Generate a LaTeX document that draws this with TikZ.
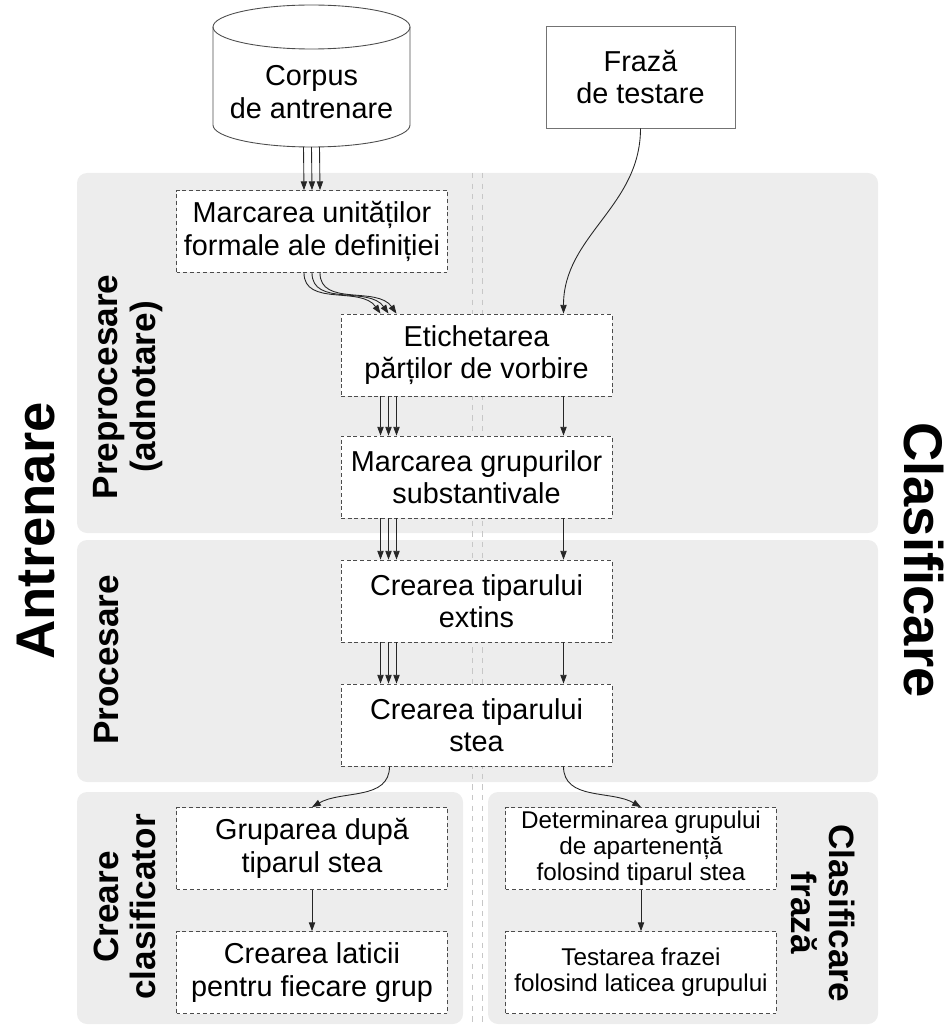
\documentclass[tikz,border=0pt]{standalone}
\usepackage{fontspec}
\setmainfont{Liberation Sans}
\usetikzlibrary{arrows.meta}

\begin{document}
\begin{tikzpicture}[x=0.02cm, y=-0.02cm,
                    every node/.style={align=center, font=\fontsize{16.4}{18.4}\selectfont},
                    panel/.style={fill=black!7, rounded corners=0.2cm},
                    lane/.style={draw=black!22, dashed, line width=0.4pt},
                    stepbox/.style={draw=black!70, dash pattern=on 2.2pt off 1.6pt, line width=0.45pt,
                                    fill=white, minimum width=5.42cm, minimum height=1.64cm, inner sep=1pt},
                    smallbox/.style={stepbox, font=\fontsize{13.8}{14.7}\selectfont},
                    phase/.style={font=\fontsize{20}{21.5}\selectfont\bfseries},
                    side/.style={font=\fontsize{31}{33}\selectfont\bfseries},
                    flow/.style={-{Triangle[length=5pt,width=3.6pt]}, line width=0.5pt, black!85}]
                \useasboundingbox (0,0) rectangle (945,1027);

                \fill[panel] (77,173) rectangle (878,533);
                \fill[panel] (77,540) rectangle (878,782);
                \fill[panel] (77,792) rectangle (463,1024);
                \fill[panel] (488,792) rectangle (878,1024);
                \draw[lane] (472,173) -- (472,1027);
                \draw[lane] (482,173) -- (482,1027);

                \draw[black!70, line width=0.5pt] (311.5,27) ellipse[x radius=98.5, y radius=22];
                \draw[black!70, line width=0.5pt] (213,27) -- (213,125)
                    arc[start angle=180, end angle=0, x radius=98.5, y radius=22] -- (410,27);
                \node (corpus) at (311.5,92) {Corpus\\de antrenare};
                \coordinate (corpus bottom) at (311.5,147);

                \node[draw=black!55, line width=0.5pt, minimum width=3.78cm, minimum height=2.04cm]
                    (fraza) at (640.5,77) {Frază\\de testare};

                \node[stepbox] (unitati) at (312,231.5) {Marcarea unităților\\formale ale definiției};
                \node[stepbox] (etichetare) at (476.5,355) {Etichetarea\\părților de vorbire};
                \node[stepbox] (grupuri) at (476.5,477) {Marcarea grupurilor\\substantivale};
                \node[stepbox] (extins) at (476.5,601) {Crearea tiparului\\extins};
                \node[stepbox] (stea) at (476.5,725) {Crearea tiparului\\stea};
                \node[stepbox] (grupare) at (312,848.5) {Gruparea după\\tiparul stea};
                \node[stepbox] (laticii) at (312,972.5) {Crearea laticii\\pentru fiecare grup};
                \node[smallbox] (apartenenta) at (641,848.5) {Determinarea grupului\\de apartenență\\folosind tiparul stea};
                \node[smallbox] (testare) at (641,972.5) {Testarea frazei\\folosind laticea grupului};

                \node[side, rotate=90] (antrenare) at (36,531) {Antrenare};
                \node[side, rotate=-90] (clasificare) at (924,560) {Clasificare};
                \node[phase, rotate=90] (preproc) at (128,387) {Preprocesare\\(adnotare)};
                \node[phase, rotate=90] (proc) at (107,660) {Procesare};
                \node[phase, rotate=90] (creare) at (125,907) {Creare\\clasificator};
                \node[phase, rotate=-90] (clasfraza) at (823,913) {Clasificare\\frază};

                \foreach \dx in {-8,0,8} {
                    \draw[flow] ([shift={(\dx,0)}]corpus bottom) -- ([shift={(\dx,0)}]unitati.north);
                    \draw[flow] ([shift={(\dx,0)}]unitati.south) to[out=-90,in=125] ([shift={(\dx-88,0)}]etichetare.north);
                    \draw[flow] ([shift={(\dx-88,0)}]etichetare.south) -- ([shift={(\dx-88,0)}]grupuri.north);
                    \draw[flow] ([shift={(\dx-88,0)}]grupuri.south) -- ([shift={(\dx-88,0)}]extins.north);
                    \draw[flow] ([shift={(\dx-88,0)}]extins.south) -- ([shift={(\dx-88,0)}]stea.north);
                }

                \draw[flow] (fraza.south) to[out=-90,in=90] ([shift={(87,0)}]etichetare.north);
                \draw[flow] ([shift={(87,0)}]etichetare.south) -- ([shift={(87,0)}]grupuri.north);
                \draw[flow] ([shift={(87,0)}]grupuri.south) -- ([shift={(87,0)}]extins.north);
                \draw[flow] ([shift={(87,0)}]extins.south) -- ([shift={(87,0)}]stea.north);
                \draw[flow] ([shift={(-87,0)}]stea.south) to[out=-90,in=30] (grupare.north);
                \draw[flow] ([shift={(87,0)}]stea.south) to[out=-90,in=150] (apartenenta.north);
                \draw[flow] (grupare) -- (laticii);
                \draw[flow] (apartenenta) -- (testare);
            \end{tikzpicture}
\end{document}
